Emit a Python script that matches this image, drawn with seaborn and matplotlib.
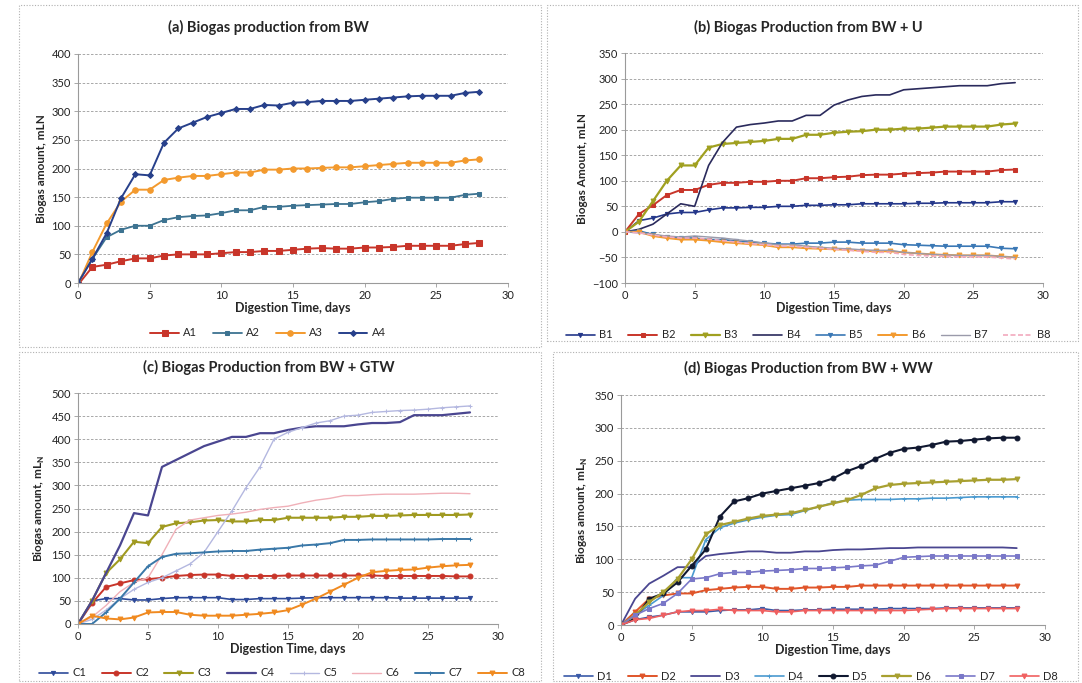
import numpy as np
import pandas as pd
import matplotlib.pyplot as plt
import seaborn as sns
from matplotlib.patches import Rectangle

days = list(range(29))

# (a) BW
A1 = [-3, 28, 32, 38, 43, 43, 48, 50, 50, 50, 52, 54, 54, 56, 56, 58, 60, 61, 60, 60, 62, 62, 63, 65, 65, 65, 65, 68, 70]
A2 = [0, 42, 80, 93, 100, 100, 110, 115, 117, 118, 122, 127, 127, 133, 133, 135, 136, 137, 138, 138, 141, 143, 147, 149, 149, 149, 149, 154, 156]
A3 = [-3, 54, 104, 142, 163, 163, 180, 184, 187, 187, 190, 193, 193, 198, 198, 200, 200, 201, 202, 202, 204, 206, 208, 210, 210, 210, 210, 214, 216]
A4 = [0, 42, 87, 148, 190, 188, 245, 270, 280, 290, 297, 304, 304, 311, 310, 315, 316, 318, 318, 318, 320, 322, 324, 326, 327, 327, 327, 332, 334]

# (b) BW + U
B1 = [0, 22, 27, 35, 38, 38, 43, 47, 47, 48, 48, 50, 50, 52, 52, 53, 53, 55, 55, 55, 55, 56, 56, 57, 57, 57, 57, 59, 59]
B2 = [0, 35, 52, 72, 82, 82, 92, 96, 96, 98, 98, 100, 100, 105, 105, 107, 108, 111, 112, 112, 114, 115, 116, 118, 118, 118, 118, 121, 122]
B3 = [0, 20, 60, 100, 130, 130, 165, 172, 174, 176, 178, 182, 182, 190, 190, 194, 196, 197, 200, 200, 202, 202, 204, 206, 206, 206, 206, 210, 212]
B4 = [0, 5, 15, 35, 55, 50, 130, 175, 205, 210, 213, 217, 217, 228, 228, 248, 258, 265, 268, 268, 278, 280, 282, 284, 286, 286, 286, 290, 292]
B5 = [0, 2, -5, -10, -12, -12, -15, -15, -18, -20, -22, -24, -24, -22, -22, -20, -20, -22, -22, -22, -25, -26, -27, -28, -28, -28, -28, -32, -33]
B6 = [0, 0, -8, -12, -15, -15, -17, -20, -22, -24, -26, -30, -30, -32, -33, -34, -35, -37, -38, -38, -40, -42, -44, -45, -46, -46, -46, -48, -50]
B7 = [0, -2, -5, -8, -10, -8, -10, -12, -15, -18, -22, -25, -25, -28, -30, -32, -33, -35, -36, -36, -40, -42, -44, -45, -46, -46, -46, -48, -50]
B8 = [0, -2, -6, -10, -12, -12, -14, -17, -20, -23, -25, -28, -28, -30, -32, -34, -36, -38, -40, -40, -44, -46, -47, -48, -49, -49, -49, -51, -53]

# (c) BW + GTW
C1 = [0, 50, 55, 55, 52, 52, 55, 57, 57, 57, 57, 53, 53, 55, 55, 55, 56, 57, 57, 57, 57, 57, 57, 56, 56, 56, 56, 56, 56]
C2 = [0, 45, 80, 88, 95, 97, 100, 104, 106, 107, 107, 104, 104, 104, 104, 105, 105, 105, 105, 105, 105, 105, 104, 104, 104, 104, 104, 103, 103]
C3 = [0, 50, 110, 140, 178, 175, 210, 218, 220, 224, 225, 222, 222, 225, 225, 230, 230, 230, 230, 232, 232, 234, 234, 235, 236, 236, 236, 236, 237]
C4 = [0, 50, 110, 170, 240, 235, 340, 355, 370, 385, 395, 405, 405, 413, 413, 420, 425, 428, 428, 428, 432, 435, 435, 437, 452, 452, 452, 455, 458]
C5 = [0, 10, 30, 55, 75, 90, 100, 115, 130, 155, 200, 245, 295, 340, 400, 415, 425, 435, 440, 450, 452, 458, 460, 462, 463, 465, 468, 470, 472]
C6 = [0, 15, 40, 70, 90, 100, 150, 205, 225, 230, 235, 238, 242, 248, 252, 255, 262, 268, 272, 278, 278, 280, 281, 281, 281, 282, 283, 283, 282]
C7 = [0, 0, 25, 55, 90, 125, 145, 152, 153, 155, 157, 158, 158, 161, 163, 165, 170, 172, 175, 182, 182, 183, 183, 183, 183, 183, 184, 184, 184]
C8 = [0, 18, 12, 10, 14, 25, 26, 26, 20, 18, 18, 18, 20, 22, 25, 30, 42, 55, 70, 85, 100, 112, 115, 117, 118, 122, 125, 127, 128]

# (d) BW + WW
D1 = [0, 8, 12, 15, 20, 20, 20, 22, 23, 23, 25, 22, 22, 23, 23, 24, 24, 24, 24, 25, 25, 25, 25, 26, 26, 26, 26, 26, 26]
D2 = [0, 20, 40, 45, 48, 48, 53, 55, 57, 58, 58, 55, 55, 57, 57, 58, 58, 60, 60, 60, 60, 60, 60, 60, 60, 60, 60, 60, 60]
D3 = [0, 40, 63, 75, 88, 88, 105, 108, 110, 112, 112, 110, 110, 112, 112, 114, 115, 115, 116, 117, 117, 118, 118, 118, 118, 118, 118, 118, 117]
D4 = [0, 15, 30, 45, 72, 72, 130, 148, 155, 160, 164, 167, 168, 174, 180, 186, 190, 191, 191, 191, 192, 192, 193, 193, 194, 195, 195, 195, 195]
D5 = [0, 10, 40, 48, 65, 90, 115, 165, 188, 193, 200, 204, 208, 212, 216, 223, 234, 242, 253, 262, 268, 270, 274, 279, 280, 282, 284, 285, 285]
D6 = [0, 15, 35, 50, 70, 100, 138, 152, 157, 162, 166, 168, 170, 175, 180, 185, 190, 198, 208, 213, 215, 216, 217, 218, 219, 220, 221, 221, 222]
D7 = [0, 15, 25, 33, 48, 70, 72, 78, 80, 80, 82, 83, 84, 86, 86, 87, 88, 90, 91, 97, 103, 104, 105, 105, 105, 105, 105, 105, 105]
D8 = [0, 8, 10, 15, 20, 22, 22, 24, 22, 22, 22, 20, 20, 22, 22, 22, 22, 22, 22, 22, 22, 23, 24, 25, 25, 25, 25, 25, 25]

sns.set_theme(style="white")
plt.rcParams['font.family'] = ['Lato', 'DejaVu Sans']

W, H = 1082, 683
fig = plt.figure(figsize=(W / 100, H / 100), dpi=100)

# panel frames (dotted boxes)
for (x0, y0, x1, y1) in [(19, 5, 541, 347), (547, 5, 1078, 341), (19, 352, 541, 681), (553, 352, 1078, 681)]:
    fig.patches.append(Rectangle((x0 / W, 1 - y1 / H), (x1 - x0) / W, (y1 - y0) / H,
                                 transform=fig.transFigure, fill=False,
                                 edgecolor='#b0b0b0', linestyle=(0, (1, 1.5)), lw=0.8))

def px_axes(l, t, r, b):
    return fig.add_axes([l / W, 1 - b / H, (r - l) / W, (b - t) / H])

# style per series: color, marker, marker size, linestyle, linewidth
styles = {
    'A1': ('#c8352a', 's', 4, '-', 1.4), 'A2': ('#3d7391', 's', 3, '-', 1.3),
    'A3': ('#f39a2e', 'o', 4, '-', 1.4), 'A4': ('#27408b', 'D', 3, '-', 1.4),
    'B1': ('#24378a', 'v', 3, '-', 1.2), 'B2': ('#c8352a', 's', 3.5, '-', 1.4),
    'B3': ('#a0a020', 'v', 3.5, '-', 1.6), 'B4': ('#2a2a5c', '', 0, '-', 1.2),
    'B5': ('#3a78b5', 'v', 3, '-', 1.2), 'B6': ('#f39a2e', 'v', 3.5, '-', 1.4),
    'B7': ('#9a9aaa', '', 0, '-', 1.0), 'B8': ('#f2a9bd', '', 0, (0, (3, 1.5)), 1.2),
    'C1': ('#2e4a9a', 'v', 3, '-', 1.2), 'C2': ('#c8352a', 'o', 3.5, '-', 1.4),
    'C3': ('#a09a20', 'v', 3.5, '-', 1.5), 'C4': ('#4a4690', '', 0, '-', 1.6),
    'C5': ('#b4b8e0', '+', 3, '-', 1.0), 'C6': ('#f0b0b8', '', 0, '-', 1.0),
    'C7': ('#3a78a8', '+', 3, '-', 1.4), 'C8': ('#f08a20', 'v', 3.5, '-', 1.4),
    'D1': ('#3a5aa8', 'v', 3, '-', 1.2), 'D2': ('#e0552a', 'v', 3.5, '-', 1.4),
    'D3': ('#4a4690', '', 0, '-', 1.3), 'D4': ('#4a9ad0', '+', 3.5, '-', 1.2),
    'D5': ('#101830', 'o', 3.5, '-', 1.5), 'D6': ('#a8a030', 'v', 3.5, '-', 1.6),
    'D7': ('#7a78c8', 's', 3, '-', 1.2), 'D8': ('#f06060', 'v', 3.5, '-', 1.2),
}

panels = [
    dict(box=(78, 54, 508, 283), series={'A1': A1, 'A2': A2, 'A3': A3, 'A4': A4},
         ylim=(0, 400), ylabel='Biogas amount, mLN', title='(a) Biogas production from BW',
         title_xy=(268, 27), leg_xy=(268, 333), ncol=4),
    dict(box=(625, 53, 1043, 283), series={'B1': B1, 'B2': B2, 'B3': B3, 'B4': B4, 'B5': B5, 'B6': B6, 'B7': B7, 'B8': B8},
         ylim=(-100, 350), ylabel='Biogas Amount, mLN', title='(b) Biogas Production from BW + U',
         title_xy=(808, 27), leg_xy=(808, 335), ncol=8),
    dict(box=(78, 393, 498, 624), series={'C1': C1, 'C2': C2, 'C3': C3, 'C4': C4, 'C5': C5, 'C6': C6, 'C7': C7, 'C8': C8},
         ylim=(0, 500), ylabel='Biogas amount, mL$_\\mathregular{N}$', title='(c) Biogas Production from BW + GTW',
         title_xy=(269, 367), leg_xy=(282, 673), ncol=8),
    dict(box=(621, 395, 1045, 625), series={'D1': D1, 'D2': D2, 'D3': D3, 'D4': D4, 'D5': D5, 'D6': D6, 'D7': D7, 'D8': D8},
         ylim=(0, 350), ylabel='Biogas amount, mL$_\\mathregular{N}$', title='(d) Biogas Production from BW + WW',
         title_xy=(808, 368), leg_xy=(811, 676), ncol=8),
]

for p in panels:
    ax = px_axes(*p['box'])
    for name, vals in p['series'].items():
        color, marker, ms, ls, lw = styles[name]
        sns.lineplot(x=days, y=vals, ax=ax, color=color, marker=marker if marker else None,
                     markersize=ms, markeredgecolor=color, linestyle=ls, linewidth=lw,
                     label=name, legend=False)
    ax.set_xlim(0, 30)
    ax.set_ylim(*p['ylim'])
    ax.set_xticks(range(0, 31, 5))
    ax.set_yticks(np.arange(p['ylim'][0], p['ylim'][1] + 1, 50))
    ax.yaxis.grid(True, color='#9a9a9a', linestyle=(0, (3, 2)), linewidth=0.6)
    ax.xaxis.grid(False)
    for s in ['top', 'right']:
        ax.spines[s].set_visible(False)
    for s in ['left', 'bottom']:
        ax.spines[s].set_color('#9a9a9a')
        ax.spines[s].set_linewidth(0.8)
    ax.tick_params(axis='both', labelsize=8, colors='#222222', length=3, width=0.6,
                   bottom=True, left=True, pad=2)
    ax.tick_params(axis='both', color='#9a9a9a')
    ax.set_xlabel('Digestion Time, days', fontsize=9, fontweight='bold', labelpad=1)
    ax.set_ylabel(p['ylabel'], fontsize=8.5, fontweight='bold', labelpad=3)
    fig.text(p['title_xy'][0] / W, 1 - p['title_xy'][1] / H, p['title'],
             fontsize=10.5, fontweight='bold', ha='center', va='center')
    handles, labels = ax.get_legend_handles_labels()
    fig.legend(handles, labels, loc='center', ncol=p['ncol'], frameon=False,
               bbox_to_anchor=(p['leg_xy'][0] / W, 1 - p['leg_xy'][1] / H),
               fontsize=8, handlelength=2.6, columnspacing=1.4, handletextpad=0.4,
               borderpad=0, borderaxespad=0)

fig.savefig('out.png', dpi=100)
